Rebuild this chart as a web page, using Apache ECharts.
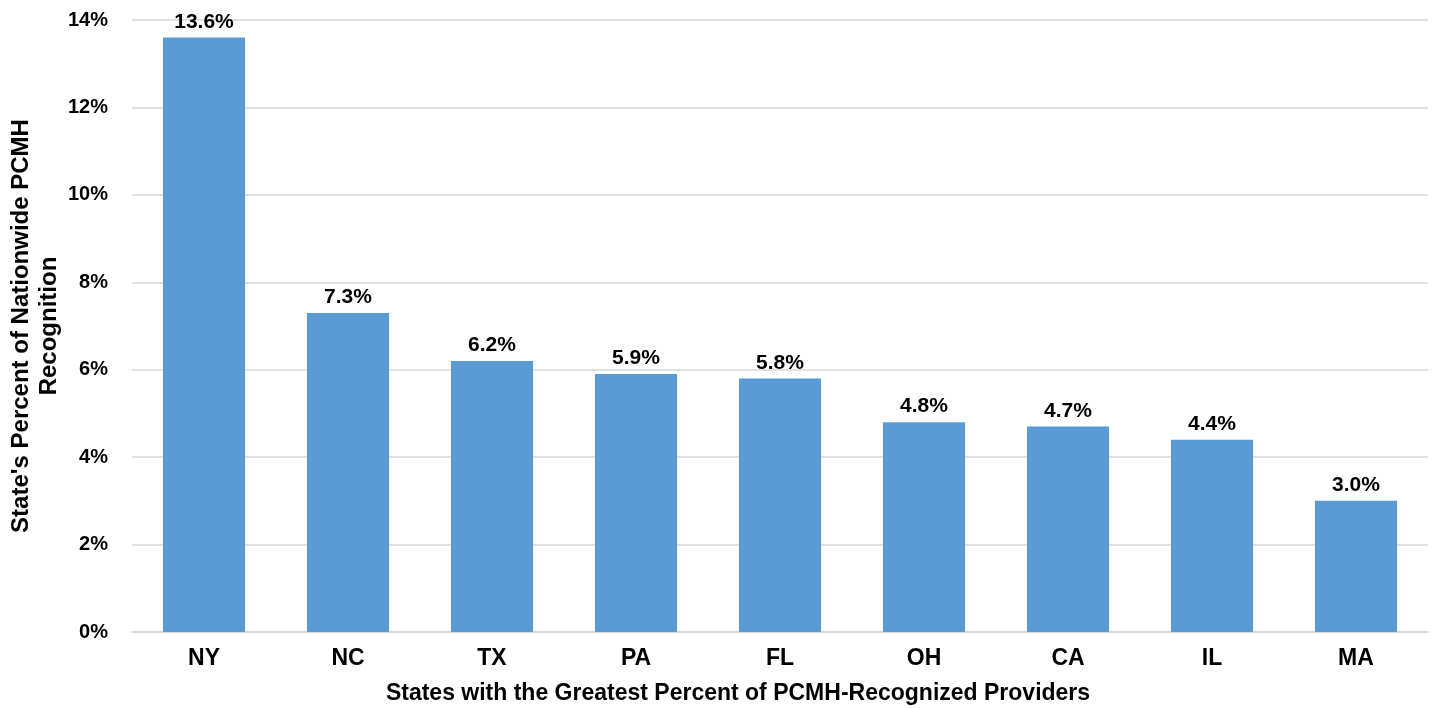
<!DOCTYPE html>
<html>
<head>
<meta charset="utf-8">
<script src="https://cdn.jsdelivr.net/npm/echarts@6/dist/echarts.min.js"></script>
<style>
html,body{margin:0;padding:0;background:#fff;}
#chart{width:1433px;height:708px;}
</style>
</head>
<body>
<div id="chart"></div>
<script>
var states = ['NY', 'NC', 'TX', 'PA', 'FL', 'OH', 'CA', 'IL', 'MA'];
var shares = [13.6, 7.3, 6.2, 5.9, 5.8, 4.8, 4.7, 4.4, 3.0];
var yTicks = [0, 2, 4, 6, 8, 10, 12, 14];

var font = '"Liberation Sans", Arial, sans-serif';
var chart = echarts.init(document.getElementById('chart'));
chart.setOption({
    animation: false,
    grid: { left: 132, right: 5, top: 20, bottom: 76, containLabel: false, outerBoundsMode: 'none' },
    xAxis: {
        type: 'category',
        data: states,
        name: 'States with the Greatest Percent of PCMH-Recognized Providers',
        nameLocation: 'middle',
        nameGap: 50,
        // title sits a bit left of the plot centre in the original
        nameTextStyle: { fontFamily: font, fontWeight: 'bold', fontSize: 23, color: '#000', padding: [0, 84, 0, 0] },
        axisLine: { lineStyle: { color: '#D9D9D9', width: 1.5 } },
        axisTick: { show: false },
        axisLabel: { fontFamily: font, fontWeight: 'bold', fontSize: 23, color: '#000', margin: 15 }
    },
    yAxis: {
        type: 'value',
        min: yTicks[0],
        max: yTicks[yTicks.length - 1],
        interval: 2,
        name: "State's Percent of Nationwide PCMH\nRecognition",
        nameLocation: 'middle',
        nameGap: 69,
        nameMoveOverlap: false,
        nameRotate: 90,
        nameTextStyle: { fontFamily: font, fontWeight: 'bold', fontSize: 24, color: '#000', lineHeight: 28 },
        axisLine: { show: false },
        axisTick: { show: false },
        splitLine: { lineStyle: { color: '#D9D9D9', width: 1.5 } },
        axisLabel: { fontFamily: font, fontWeight: 'bold', fontSize: 20, color: '#000', margin: 24, formatter: '{value}%' }
    },
    series: [{
        type: 'bar',
        data: shares,
        barWidth: '57%',
        itemStyle: { color: '#5B9BD5' },
        label: {
            show: true,
            position: 'top',
            distance: 5,
            fontFamily: font,
            fontWeight: 'bold',
            fontSize: 21,
            color: '#000',
            formatter: function (p) { return p.value.toFixed(1) + '%'; }
        }
    }]
});
</script>
</body>
</html>
